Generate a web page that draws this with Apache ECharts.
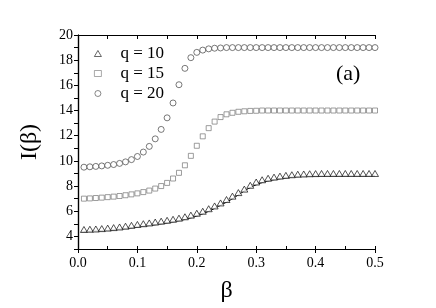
<!DOCTYPE html>
<html>
<head>
<meta charset="utf-8">
<script src="https://cdn.jsdelivr.net/npm/echarts@6/dist/echarts.min.js"></script>
<style>html,body{margin:0;padding:0;background:#fff}#c{width:436px;height:308px}</style>
</head>
<body>
<div id="c"></div>
<script>
var betas = [0.01,0.02,0.03,0.04,0.05,0.06,0.07,0.08,0.09,0.10,
             0.11,0.12,0.13,0.14,0.15,0.16,0.17,0.18,0.19,0.20,
             0.21,0.22,0.23,0.24,0.25,0.26,0.27,0.28,0.29,0.30,
             0.31,0.32,0.33,0.34,0.35,0.36,0.37,0.38,0.39,0.40,
             0.41,0.42,0.43,0.44,0.45,0.46,0.47,0.48,0.49,0.50];
var q10 = [4.55,4.57,4.59,4.62,4.66,4.70,4.75,4.81,4.88,4.95,
           5.01,5.07,5.14,5.21,5.28,5.36,5.45,5.56,5.69,5.84,
           6.00,6.20,6.42,6.66,6.93,7.20,7.48,7.76,8.06,8.32,
           8.50,8.62,8.71,8.79,8.85,8.90,8.94,8.96,8.98,8.99,
           9.00,9.00,9.00,9.00,9.00,9.00,9.00,9.00,9.00,9.00];
var q15 = [7.00,7.02,7.05,7.08,7.12,7.16,7.21,7.27,7.34,7.42,
           7.52,7.64,7.80,8.00,8.25,8.60,9.05,9.65,10.40,11.20,
           11.95,12.60,13.12,13.48,13.70,13.82,13.90,13.94,13.97,13.98,
           14.00,14.00,14.00,14.00,14.00,14.00,14.00,14.00,14.00,14.00,
           14.00,14.00,14.00,14.00,14.00,14.00,14.00,14.00,14.00,14.00];
var q20 = [9.50,9.53,9.56,9.60,9.65,9.71,9.80,9.92,10.10,10.35,
           10.70,11.15,11.75,12.50,13.42,14.60,16.05,17.35,18.20,18.62,
           18.80,18.90,18.95,18.97,19.00,19.00,19.00,19.00,19.00,19.00,
           19.00,19.00,19.00,19.00,19.00,19.00,19.00,19.00,19.00,19.00,
           19.00,19.00,19.00,19.00,19.00,19.00,19.00,19.00,19.00,19.00];
var fitBeta = [0.005,0.05,0.10,0.15,0.20,0.25,0.30,0.35,0.40,0.45,0.50];
var fitQ10  = [4.38,4.48,4.75,5.08,5.62,6.72,8.10,8.65,8.79,8.81,8.81];
var names = ['q = 10','q = 15','q = 20'];

function pairs(xs, ys){ return xs.map(function(x,i){ return [x, ys[i]]; }); }

var serif = 'Liberation Serif';
var chart = echarts.init(document.getElementById('c'), null, {renderer:'canvas'});
chart.setOption({
  animation:false,
  backgroundColor:'#fff',
  grid:{left:78, right:61, top:35, bottom:51, containLabel:false},
  legend:{
    data:names, orient:'vertical', left:89, top:40, itemGap:3,
    itemWidth:7, itemHeight:6,
    itemStyle:{borderWidth:0.8},
    textStyle:{fontFamily:serif, fontSize:17, color:'#000', padding:[0,0,0,14]}
  },
  graphic:[{type:'text', left:336, top:63, style:{text:'(a)', font:'22px "Liberation Serif"', fill:'#000'}}],
  xAxis:[
    {type:'value', position:'bottom', min:0, max:0.5, interval:0.1,
     name:'β', nameLocation:'middle', nameGap:30,
     nameTextStyle:{fontFamily:serif, fontSize:24, color:'#000'},
     axisLine:{lineStyle:{color:'#000', width:1.2}},
     axisTick:{inside:false, length:4, lineStyle:{color:'#000'}},
     axisLabel:{fontFamily:serif, fontSize:14, color:'#000', margin:7, formatter:function(v){return v.toFixed(1);}},
     splitLine:{show:false}},
    {type:'value', position:'top', min:0, max:0.5, interval:0.05,
     axisLine:{lineStyle:{color:'#000', width:1.2}},
     axisTick:{inside:true, length:4, lineStyle:{color:'#000'}},
     axisLabel:{show:false}, splitLine:{show:false}},
    {type:'value', position:'bottom', min:0, max:0.5, interval:0.05,
     axisLine:{show:false},
     axisTick:{inside:true, length:3, lineStyle:{color:'#000'}},
     axisLabel:{show:false}, splitLine:{show:false}}
  ],
  yAxis:[
    {type:'value', position:'left', min:3, max:20, interval:1,
     name:'I(β)', nameLocation:'middle', nameGap:36, nameRotate:90,
     nameTextStyle:{fontFamily:serif, fontSize:24, color:'#000'},
     axisLine:{lineStyle:{color:'#000', width:1.2}},
     axisTick:{inside:false, length:4, lineStyle:{color:'#000'}},
     axisLabel:{fontFamily:serif, fontSize:14, color:'#000', margin:5,
       formatter:function(v){ return (v % 2 === 0) ? String(v) : ''; }},
     splitLine:{show:false}},
    {type:'value', position:'right', min:3, max:20, interval:1,
     axisLine:{lineStyle:{color:'#000', width:1.2}},
     axisTick:{inside:true, length:4, lineStyle:{color:'#000'}},
     axisLabel:{show:false}, splitLine:{show:false}}
  ],
  series:[
    {type:'line', name:'fit', data:pairs(fitBeta, fitQ10), smooth:0.4, symbol:'none',
     lineStyle:{color:'#000', width:1}, xAxisIndex:0, yAxisIndex:0, z:1, legendHoverLink:false},
    {type:'scatter', name:names[0], data:pairs(betas, q10), symbol:'triangle', symbolSize:[7,6],
     itemStyle:{color:'#fff', borderColor:'#111', borderWidth:0.9}, z:3},
    {type:'scatter', name:names[1], data:pairs(betas, q15), symbol:'rect', symbolSize:5,
     itemStyle:{color:'#fff', borderColor:'#777', borderWidth:0.9}, z:3},
    {type:'scatter', name:names[2], data:pairs(betas, q20), symbol:'circle', symbolSize:6,
     itemStyle:{color:'#fff', borderColor:'#444', borderWidth:0.9}, z:3}
  ]
});
</script>
</body>
</html>
